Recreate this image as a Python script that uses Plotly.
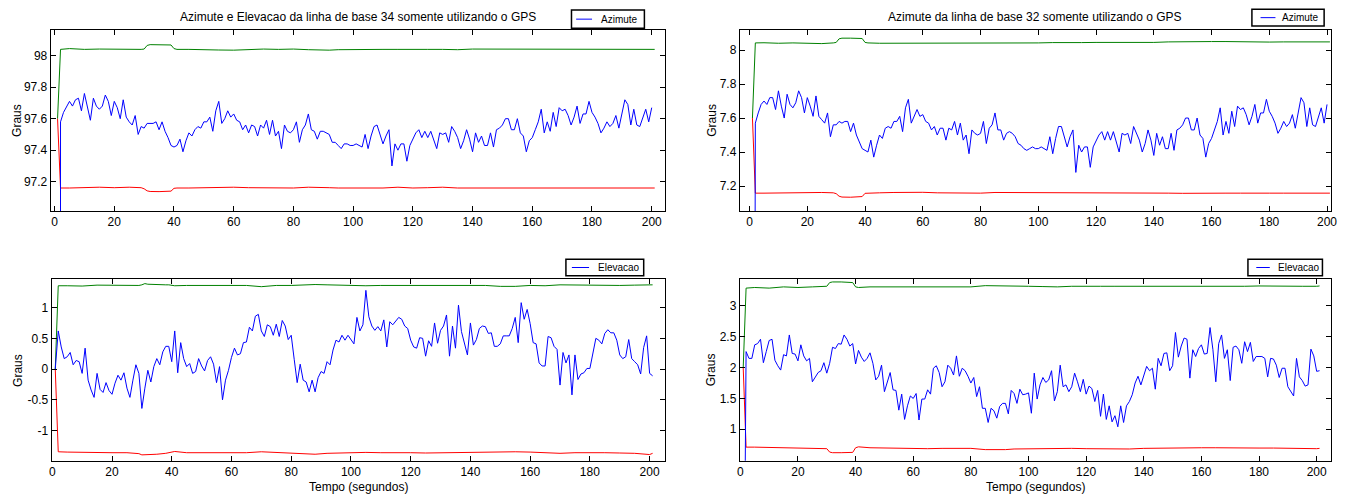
import plotly.graph_objects as go

W, H = 1349, 495

# ---------------- data ----------------
t_blue_az = list(range(1, 201))
t_blue_el = list(range(1, 202))

azimute_34 = [0, 97.58, 97.64, 97.68, 97.71, 97.68, 97.72, 97.73, 97.65, 97.76,
              97.67, 97.59, 97.73, 97.68, 97.66, 97.68, 97.75, 97.71, 97.62, 97.71,
              97.67, 97.60, 97.72, 97.61, 97.58, 97.56, 97.62, 97.50, 97.55, 97.54,
              97.57, 97.57, 97.57, 97.58, 97.53, 97.58, 97.52, 97.48, 97.43, 97.42,
              97.43, 97.47, 97.39, 97.46, 97.51, 97.49, 97.53, 97.55, 97.54, 97.58,
              97.58, 97.61, 97.52, 97.65, 97.71, 97.57, 97.60, 97.65, 97.61, 97.63,
              97.59, 97.58, 97.53, 97.56, 97.51, 97.56, 97.55, 97.49, 97.56, 97.54,
              97.59, 97.50, 97.59, 97.49, 97.52, 97.41, 97.56, 97.52, 97.51, 97.53,
              97.58, 97.45, 97.53, 97.56, 97.63, 97.53, 97.52, 97.47, 97.52, 97.52,
              97.51, 97.50, 97.45, 97.45, 97.43, 97.41, 97.44, 97.44, 97.43, 97.43,
              97.44, 97.43, 97.42, 97.50, 97.41, 97.49, 97.55, 97.56, 97.50, 97.44,
              97.49, 97.53, 97.30, 97.44, 97.40, 97.44, 97.44, 97.33, 97.43, 97.47,
              97.51, 97.53, 97.48, 97.52, 97.48, 97.52, 97.47, 97.41, 97.51, 97.50,
              97.51, 97.45, 97.55, 97.52, 97.48, 97.41, 97.46, 97.53, 97.47, 97.39,
              97.51, 97.45, 97.49, 97.43, 97.43, 97.51, 97.42, 97.53, 97.54, 97.56,
              97.60, 97.60, 97.53, 97.53, 97.60, 97.51, 97.49, 97.39, 97.46, 97.48,
              97.53, 97.58, 97.66, 97.51, 97.58, 97.52, 97.64, 97.55, 97.67, 97.65,
              97.66, 97.62, 97.56, 97.61, 97.68, 97.57, 97.63, 97.63, 97.71, 97.64,
              97.61, 97.57, 97.51, 97.54, 97.58, 97.55, 97.57, 97.62, 97.54, 97.64,
              97.72, 97.69, 97.56, 97.66, 97.56, 97.55, 97.60, 97.66, 97.58, 97.67]

azimute_32 = [0, 7.57, 7.63, 7.68, 7.70, 7.68, 7.72, 7.72, 7.65, 7.76,
              7.67, 7.60, 7.74, 7.68, 7.66, 7.69, 7.76, 7.72, 7.63, 7.72,
              7.67, 7.61, 7.73, 7.61, 7.59, 7.57, 7.63, 7.49, 7.56, 7.56,
              7.58, 7.57, 7.58, 7.58, 7.52, 7.57, 7.50, 7.46, 7.42, 7.41,
              7.40, 7.47, 7.37, 7.44, 7.50, 7.48, 7.54, 7.55, 7.54, 7.58,
              7.58, 7.61, 7.52, 7.66, 7.71, 7.57, 7.61, 7.65, 7.61, 7.62,
              7.58, 7.57, 7.53, 7.55, 7.50, 7.54, 7.54, 7.47, 7.54, 7.53,
              7.58, 7.50, 7.57, 7.47, 7.50, 7.39, 7.53, 7.51, 7.50, 7.51,
              7.58, 7.45, 7.54, 7.56, 7.63, 7.53, 7.53, 7.47, 7.51, 7.52,
              7.51, 7.49, 7.45, 7.44, 7.42, 7.41, 7.42, 7.43, 7.42, 7.42,
              7.43, 7.42, 7.41, 7.49, 7.39, 7.48, 7.55, 7.55, 7.49, 7.43,
              7.49, 7.53, 7.28, 7.44, 7.40, 7.43, 7.43, 7.31, 7.43, 7.47,
              7.50, 7.52, 7.47, 7.52, 7.47, 7.52, 7.46, 7.40, 7.51, 7.50,
              7.51, 7.45, 7.55, 7.51, 7.47, 7.40, 7.45, 7.53, 7.47, 7.38,
              7.51, 7.44, 7.49, 7.42, 7.42, 7.51, 7.41, 7.53, 7.54, 7.56,
              7.60, 7.60, 7.53, 7.53, 7.60, 7.50, 7.48, 7.37, 7.45, 7.48,
              7.53, 7.58, 7.66, 7.50, 7.58, 7.51, 7.64, 7.55, 7.67, 7.65,
              7.66, 7.62, 7.56, 7.61, 7.68, 7.57, 7.63, 7.63, 7.71, 7.64,
              7.61, 7.57, 7.51, 7.54, 7.58, 7.55, 7.57, 7.62, 7.54, 7.64,
              7.72, 7.69, 7.55, 7.66, 7.56, 7.55, 7.60, 7.66, 7.57, 7.68]

elevacao_34 = [0, 0.62, 0.36, 0.17, 0.20, 0.27, 0.07, 0.14, 0.12, -0.07,
               0.34, -0.18, -0.34, -0.46, -0.07, -0.33, -0.38, -0.22, -0.35, -0.41,
               -0.23, -0.10, -0.18, -0.06, -0.31, -0.46, -0.18, 0.07, -0.07, -0.64,
               -0.31, -0.02, -0.21, 0.04, 0.17, 0.07, 0.28, 0.37, 0.37, 0.12,
               0.62, -0.06, 0.43, 0.17, 0.04, 0.09, -0.07, -0.04, 0.17, 0.05,
               -0.03, 0.14, 0.20, 0.08, -0.22, 0.04, -0.50, -0.18, -0.02, 0.19,
               0.34, 0.23, 0.25, 0.43, 0.44, 0.68, 0.62, 0.86, 0.89, 0.62,
               0.53, 0.72, 0.69, 0.55, 0.73, 0.53, 0.79, 0.70, 0.48, 0.55,
               0.16, -0.22, 0.08, -0.18, -0.21, -0.37, -0.18, -0.37, -0.14, -0.04,
               -0.07, 0.12, 0.07, 0.31, 0.47, 0.44, 0.55, 0.47, 0.55, 0.48,
               0.41, 0.84, 0.62, 0.72, 1.28, 0.85, 0.70, 0.63, 0.69, 0.62,
               0.80, 0.36, 0.77, 0.72, 0.79, 0.84, 0.81, 0.70, 0.66, 0.47,
               0.36, 0.34, 0.51, 0.50, 0.21, 0.46, 0.37, 0.75, 0.42, 0.63,
               0.70, 0.88, 0.21, 0.70, 0.34, 1.04, 0.61, 0.44, 0.23, 0.75,
               0.39, 0.48, 0.66, 0.70, 0.69, 0.58, 0.59, 0.37, 0.37, 0.41,
               0.54, 0.54, 0.54, 0.66, 0.84, 0.43, 1.08, 0.81, 0.97, 0.74,
               0.43, 0.41, 0.10, 0.05, 0.05, 0.53, 0.51, 0.37, 0.32, -0.26,
               0.27, 0.10, 0.23, -0.42, 0.23, -0.17, -0.08, -0.06, 0.01, 0.01,
               0.23, 0.50, 0.47, 0.41, 0.58, 0.64, 0.59, 0.59, 0.47, 0.23,
               0.17, 0.20, 0.48, 0.17, 0.12, 0.07, -0.08, 0.35, 0.54, -0.07,
               -0.11]

elevacao_32 = [-4.0, 2.26, 2.15, 2.15, 2.37, 2.39, 2.46, 2.08, 2.26, 2.44,
               2.46, 2.12, 2.03, 1.96, 2.21, 2.19, 2.53, 2.23, 2.22, 2.11,
               2.37, 2.19, 2.11, 2.15, 1.77, 1.84, 1.92, 1.95, 2.08, 1.91,
               2.07, 2.33, 2.31, 2.39, 2.38, 2.53, 2.46, 2.35, 2.39, 2.06,
               2.28, 2.17, 2.10, 2.15, 2.24, 2.07, 1.80, 1.86, 2.04, 1.61,
               1.75, 1.92, 1.64, 1.63, 1.31, 1.57, 1.16, 1.38, 1.54, 1.50,
               1.58, 1.15, 1.49, 1.49, 1.64, 1.57, 1.99, 2.03, 1.92, 1.69,
               1.77, 2.04, 1.99, 1.88, 2.19, 1.86, 1.99, 1.95, 1.86, 1.75,
               1.84, 1.53, 1.69, 1.34, 1.34, 1.11, 1.34, 1.30, 1.18, 1.37,
               1.42, 1.42, 1.25, 1.63, 1.58, 1.42, 1.65, 1.56, 1.57, 1.59,
               1.26, 1.91, 1.49, 1.72, 1.84, 1.76, 1.80, 1.95, 1.46, 1.61,
               2.04, 1.69, 1.72, 1.61, 1.69, 1.91, 1.77, 1.61, 1.81, 1.57,
               1.70, 1.66, 1.45, 1.63, 1.21, 1.57, 1.16, 1.38, 1.12, 1.22,
               1.04, 1.38, 1.11, 1.38, 1.45, 1.56, 1.75, 1.86, 1.72, 1.88,
               2.02, 1.95, 1.99, 1.65, 2.15, 2.03, 2.23, 2.24, 1.95, 2.03,
               2.57, 2.17, 2.35, 2.48, 2.46, 1.83, 2.29, 2.18, 2.31, 2.37,
               2.22, 2.23, 2.65, 2.29, 1.77, 2.39, 2.53, 2.15, 2.29, 1.79,
               2.33, 2.35, 2.29, 2.07, 2.42, 2.26, 2.41, 2.10, 2.18, 2.18,
               2.18, 2.15, 1.85, 2.15, 2.14, 2.04, 1.84, 1.99, 1.99, 1.69,
               1.61, 1.54, 2.15, 1.85, 1.79, 1.70, 1.72, 2.30, 2.19, 1.94,
               1.95]

# upper (green) / lower (red) bounds, sampled at these instants
t_env = [1, 2, 5, 10, 15, 20, 25, 29, 30, 31, 32, 35, 38, 39, 40, 41, 45, 50, 55, 60,
         65, 70, 75, 80, 85, 88, 92, 95, 100, 105, 110, 115, 120, 125, 130, 135, 140, 145, 150, 155,
         160, 165, 170, 175, 180, 185, 190, 195, 200, 201]

sup_az34 = [97.6, 98.04, 98.045, 98.04, 98.042, 98.04, 98.038, 98.04, 98.042, 98.065,
            98.07, 98.07, 98.07, 98.068, 98.045, 98.04, 98.04, 98.04, 98.036, 98.035,
            98.04, 98.042, 98.04, 98.042, 98.038, 98.035, 98.035, 98.038, 98.04, 98.042,
            98.04, 98.04, 98.042, 98.04, 98.04, 98.038, 98.042, 98.042, 98.042, 98.04,
            98.042, 98.04, 98.042, 98.04, 98.042, 98.04, 98.04, 98.038, 98.042, 98.04]
inf_az34 = [97.6, 97.16, 97.16, 97.162, 97.165, 97.162, 97.165, 97.162, 97.155, 97.142,
            97.138, 97.137, 97.138, 97.14, 97.158, 97.16, 97.16, 97.162, 97.165, 97.165,
            97.162, 97.16, 97.16, 97.16, 97.165, 97.165, 97.162, 97.16, 97.16, 97.162,
            97.16, 97.165, 97.16, 97.162, 97.165, 97.16, 97.16, 97.162, 97.16, 97.16,
            97.16, 97.162, 97.16, 97.16, 97.162, 97.16, 97.16, 97.162, 97.16, 97.16]

sup_az32 = [7.6, 8.042, 8.043, 8.04, 8.042, 8.04, 8.038, 8.042, 8.045, 8.066,
            8.07, 8.07, 8.07, 8.068, 8.045, 8.042, 8.04, 8.04, 8.038, 8.038,
            8.04, 8.042, 8.04, 8.042, 8.04, 8.038, 8.04, 8.042, 8.042, 8.044,
            8.042, 8.044, 8.045, 8.044, 8.045, 8.046, 8.045, 8.048, 8.05, 8.05,
            8.05, 8.05, 8.048, 8.048, 8.047, 8.048, 8.048, 8.048, 8.048, 8.048]
inf_az32 = [7.6, 7.158, 7.158, 7.16, 7.162, 7.16, 7.162, 7.16, 7.155, 7.14,
            7.135, 7.134, 7.135, 7.138, 7.157, 7.158, 7.16, 7.162, 7.164, 7.163,
            7.16, 7.158, 7.158, 7.158, 7.162, 7.162, 7.16, 7.158, 7.158, 7.16,
            7.158, 7.16, 7.16, 7.162, 7.16, 7.16, 7.158, 7.158, 7.157, 7.156,
            7.156, 7.158, 7.158, 7.16, 7.158, 7.158, 7.158, 7.16, 7.158, 7.158]

sup_el34 = [0.0, 1.355, 1.355, 1.35, 1.365, 1.36, 1.36, 1.36, 1.37, 1.39,
            1.38, 1.37, 1.37, 1.37, 1.36, 1.355, 1.36, 1.36, 1.36, 1.365,
            1.36, 1.34, 1.36, 1.36, 1.37, 1.375, 1.37, 1.365, 1.36, 1.355,
            1.36, 1.36, 1.355, 1.36, 1.36, 1.355, 1.36, 1.36, 1.345, 1.345,
            1.36, 1.355, 1.37, 1.365, 1.36, 1.36, 1.36, 1.365, 1.37, 1.37]
inf_el34 = [0.0, -1.345, -1.35, -1.355, -1.365, -1.36, -1.36, -1.375, -1.395, -1.395,
            -1.39, -1.385, -1.37, -1.36, -1.355, -1.34, -1.36, -1.36, -1.37, -1.365,
            -1.36, -1.345, -1.355, -1.36, -1.375, -1.385, -1.37, -1.365, -1.36, -1.355,
            -1.36, -1.355, -1.36, -1.365, -1.36, -1.355, -1.36, -1.355, -1.35, -1.345,
            -1.35, -1.36, -1.37, -1.36, -1.355, -1.36, -1.365, -1.37, -1.39, -1.37]

sup_el32 = [2.0, 3.29, 3.30, 3.29, 3.31, 3.30, 3.31, 3.31, 3.32, 3.38,
            3.39, 3.39, 3.39, 3.38, 3.31, 3.30, 3.31, 3.31, 3.32, 3.32,
            3.315, 3.31, 3.31, 3.31, 3.33, 3.33, 3.33, 3.33, 3.32, 3.315,
            3.31, 3.32, 3.315, 3.32, 3.32, 3.32, 3.32, 3.32, 3.31, 3.31,
            3.32, 3.315, 3.31, 3.32, 3.325, 3.32, 3.325, 3.32, 3.32, 3.325]
inf_el32 = [2.0, 0.71, 0.71, 0.705, 0.70, 0.70, 0.70, 0.695, 0.685, 0.63,
            0.62, 0.62, 0.62, 0.625, 0.70, 0.715, 0.70, 0.695, 0.69, 0.68,
            0.685, 0.69, 0.695, 0.69, 0.67, 0.665, 0.67, 0.68, 0.685, 0.685,
            0.69, 0.69, 0.685, 0.68, 0.675, 0.68, 0.69, 0.695, 0.70, 0.705,
            0.70, 0.70, 0.695, 0.70, 0.695, 0.695, 0.69, 0.68, 0.685, 0.69]

x_ticks = [0, 20, 40, 60, 80, 100, 120, 140, 160, 180, 200]
y_ticks_az34 = [97.2, 97.4, 97.6, 97.8, 98]
y_ticks_az32 = [7.2, 7.4, 7.6, 7.8, 8]
y_ticks_el34 = [-1, -0.5, 0, 0.5, 1]
y_labels_el34 = ["-1", "-0.5", "0", "0.5", "1"]
y_ticks_el32 = [1, 1.5, 2, 2.5, 3]

titles = ["Azimute e Elevacao da linha de base 34 somente utilizando o GPS",
          "Azimute da linha de base 32 somente utilizando o GPS"]
legend_labels = ["Azimute", "Azimute", "Elevacao", "Elevacao"]
y_title = "Graus"
x_title = "Tempo (segundos)"

# ---------------- figure ----------------
BLUE, GREEN, RED = "#0000FF", "#008000", "#FF0000"
FONT = "Liberation Sans, Arial, Helvetica, sans-serif"


def fx(p):
    return p / W


def fy(p):
    return 1 - p / H


fig = go.Figure()

panels = [
    (t_blue_az, azimute_34, sup_az34, inf_az34, ""),
    (t_blue_az, azimute_32, sup_az32, inf_az32, "2"),
    (t_blue_el, elevacao_34, sup_el34, inf_el34, "3"),
    (t_blue_el, elevacao_32, sup_el32, inf_el32, "4"),
]
for tb, blue, sup, inf, s in panels:
    xa, ya = "x" + s, "y" + s
    fig.add_trace(go.Scatter(x=t_env, y=sup, mode="lines", line=dict(color=GREEN, width=1),
                             xaxis=xa, yaxis=ya, showlegend=False))
    fig.add_trace(go.Scatter(x=t_env, y=inf, mode="lines", line=dict(color=RED, width=1),
                             xaxis=xa, yaxis=ya, showlegend=False))
    fig.add_trace(go.Scatter(x=tb, y=blue, mode="lines", line=dict(color=BLUE, width=1),
                             xaxis=xa, yaxis=ya, showlegend=False))

axis_common = dict(showline=True, linecolor="black", linewidth=1, mirror="ticks",
                   ticks="inside", ticklen=5, tickwidth=1, tickcolor="black",
                   showgrid=False, zeroline=False,
                   tickfont=dict(family=FONT, size=12, color="black"))

# pixel boxes of the four axes: (left, right, top, bottom)
boxes = [(48, 666, 30, 211), (741.7, 1337, 30, 211),
         (49, 666, 279.3, 460.7), (741.7, 1337, 279.3, 460.7)]
xranges = [[-1.3, 204.3], [-3.4, 201.4], [-0.2, 205], [-0.2, 205]]
yranges = [[97.014, 98.163], [7.053, 8.118], [-1.49, 1.46], [0.49, 3.433]]
yticks = [(y_ticks_az34, [str(v) for v in y_ticks_az34]),
          (y_ticks_az32, [str(v) for v in y_ticks_az32]),
          (y_ticks_el34, y_labels_el34),
          (y_ticks_el32, [str(v) for v in y_ticks_el32])]

layout = {}
for i, (l, r, t, b) in enumerate(boxes):
    s = "" if i == 0 else str(i + 1)
    layout["xaxis" + s] = dict(axis_common, domain=[fx(l), fx(r)], range=xranges[i],
                               tickvals=x_ticks, ticktext=[str(v) for v in x_ticks],
                               anchor="y" + s)
    layout["yaxis" + s] = dict(axis_common, domain=[fy(b), fy(t)], range=yranges[i],
                               tickvals=yticks[i][0], ticktext=yticks[i][1],
                               anchor="x" + s)

annotations = []
shapes = []
for i, txt in enumerate(titles):
    l, r, t, b = boxes[i]
    annotations.append(dict(text=txt, x=fx((l + r) / 2), y=fy(17), xref="paper", yref="paper",
                            xanchor="center", yanchor="middle", showarrow=False,
                            font=dict(family=FONT, size=12, color="black")))
ytitle_x = [13.5, 713, 15, 713]
for i, (l, r, t, b) in enumerate(boxes):
    annotations.append(dict(text=y_title, x=fx(ytitle_x[i]), y=fy((t + b) / 2), xref="paper",
                            yref="paper", xanchor="center", yanchor="middle", textangle=-90,
                            showarrow=False, font=dict(family=FONT, size=12, color="black")))
for i in (2, 3):
    l, r, t, b = boxes[i]
    annotations.append(dict(text=x_title, x=fx((l + r) / 2), y=fy(486.5), xref="paper",
                            yref="paper", xanchor="center", yanchor="middle", showarrow=False,
                            font=dict(family=FONT, size=12, color="black")))

# hand-drawn legends: (box l, r, t, b, line x0, x1, text x)
legend_boxes = [(572.3, 645.7, 10, 28.3, 577, 593, 600.5),
                (1257.3, 1330, 9.3, 26, 1266, 1281, 1286),
                (566.7, 645, 259.3, 275.7, 572.7, 590, 596.5),
                (1253.3, 1328.3, 259.3, 275.7, 1261.7, 1275.3, 1281.5)]
for (l, r, t, b, lx0, lx1, tx), lab in zip(legend_boxes, legend_labels):
    shapes.append(dict(type="rect", xref="paper", yref="paper", x0=fx(l), x1=fx(r),
                       y0=fy(b), y1=fy(t), line=dict(color="black", width=1.5),
                       fillcolor="white", layer="above"))
    ym = (t + b) / 2
    shapes.append(dict(type="line", xref="paper", yref="paper", x0=fx(lx0), x1=fx(lx1),
                       y0=fy(ym), y1=fy(ym), line=dict(color=BLUE, width=1), layer="above"))
    annotations.append(dict(text=lab, x=fx(tx), y=fy(ym), xref="paper", yref="paper",
                            xanchor="left", yanchor="middle", showarrow=False,
                            font=dict(family=FONT, size=10, color="black")))

fig.update_layout(width=W, height=H, autosize=False, margin=dict(l=0, r=0, t=0, b=0),
                  paper_bgcolor="white", plot_bgcolor="white", showlegend=False,
                  hovermode=False,
                  annotations=annotations, shapes=shapes, **layout)

fig.write_html("out.html", config={"displayModeBar": False, "staticPlot": True},
               post_script="document.body.style.margin='0px';"
                           "document.body.style.overflow='hidden';")
